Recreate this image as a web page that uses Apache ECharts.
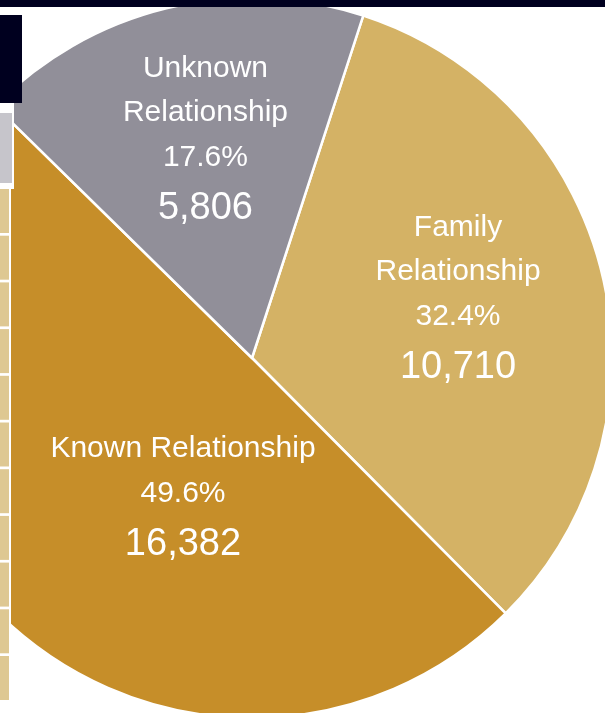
<!DOCTYPE html>
<html>
<head>
<meta charset="utf-8">
<script src="https://cdn.jsdelivr.net/npm/echarts@6/dist/echarts.min.js"></script>
<style>html,body{margin:0;padding:0;background:#fff;}#chart{width:605px;height:713px;}</style>
</head>
<body>
<div id="chart"></div>
<script>
// ---- data ----
const categories = ['Family Relationship', 'Known Relationship', 'Unknown Relationship'];
const labelNames = ['Family\nRelationship', 'Known Relationship', 'Unknown\nRelationship'];
const values = [10710, 16382, 5806];
const percentLabels = ['32.4%', '49.6%', '17.6%'];

// ---- styles ----
const colors = ['#d4b265', '#c68e29', '#918f99'];
const labelOffsets = [[28, -15], [60, 12], [-3, -39]];
const font = "'Liberation Sans', Arial, sans-serif";

function fmt(n) { return n.toLocaleString('en-US'); }

const chart = echarts.init(document.getElementById('chart'), null, { renderer: 'canvas' });

const pieData = categories.map((c, i) => ({
  name: c,
  value: values[i],
  itemStyle: { color: colors[i] },
  label: { offset: labelOffsets[i] }
}));

// decorative left strip cells
const cellGraphics = [];
for (let k = 0; k < 11; k++) {
  const y0 = 189 + k * 46.7;
  cellGraphics.push({
    type: 'rect', z: 110,
    shape: { x: 0, y: y0, width: 9, height: 44 },
    style: { fill: '#dec892' }
  });
}

chart.setOption({
  animation: false,
  backgroundColor: '#ffffff',
  series: [{
    type: 'pie',
    center: [252, 358],
    radius: [0, 360],
    startAngle: 72,
    clockwise: true,
    avoidLabelOverlap: false,
    itemStyle: { borderColor: '#ffffff', borderWidth: 2.5 },
    emphasis: { disabled: true },
    labelLine: { show: false },
    label: {
      show: true,
      position: 'inside',
      formatter: function (p) {
        const i = p.dataIndex;
        const nameLines = labelNames[i].split('\n').map(s => '{name|' + s + '}').join('\n');
        return nameLines + '\n{pct|' + percentLabels[i] + '}\n{num|' + fmt(values[i]) + '}';
      },
      rich: {
        name: { fontFamily: font, fontSize: 30, lineHeight: 44, color: '#ffffff', align: 'center' },
        pct: { fontFamily: font, fontSize: 30, lineHeight: 46, color: '#ffffff', align: 'center' },
        num: { fontFamily: font, fontSize: 38, lineHeight: 56, color: '#ffffff', align: 'center' }
      }
    },
    data: pieData
  }],
  graphic: [
    { type: 'rect', z: 100, shape: { x: 0, y: 0, width: 605, height: 7 }, style: { fill: '#00001f' } },
    { type: 'rect', z: 100, shape: { x: 0, y: 15, width: 22, height: 88 }, style: { fill: '#00001f' } },
    { type: 'rect', z: 100, shape: { x: 0, y: 103, width: 14, height: 86 }, style: { fill: '#ffffff' } },
    { type: 'rect', z: 100, shape: { x: 0, y: 189, width: 11, height: 524 }, style: { fill: '#ffffff' } },
    { type: 'rect', z: 110, shape: { x: 0, y: 113, width: 12, height: 70 }, style: { fill: '#c6c5cb' } }
  ].concat(cellGraphics)
});
</script>
</body>
</html>
